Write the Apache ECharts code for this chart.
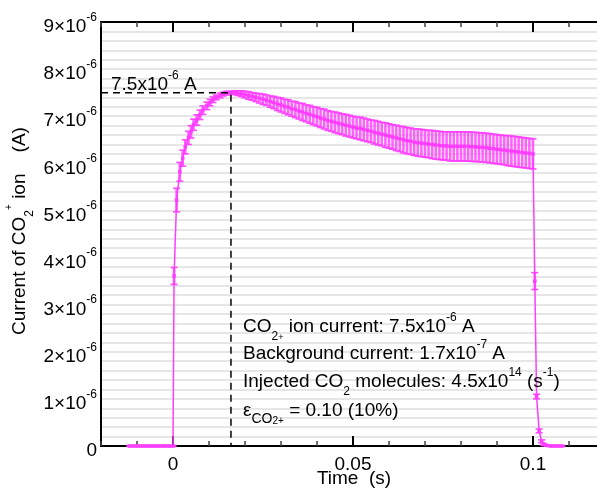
<!DOCTYPE html>
<html><head><meta charset="utf-8">
<script src="https://cdn.jsdelivr.net/npm/echarts@6/dist/echarts.min.js"></script>
<style>html,body{margin:0;padding:0;background:#fff}#c{width:597px;height:488px}</style>
</head><body><div id="c"></div>
<script>
// Time (s)
const time = [
  -0.012,-0.011,-0.010,-0.009,-0.008,-0.007,-0.006,-0.005,-0.004,-0.003,-0.002,-0.001,0.000,
  0.0003,0.0010,0.0019,0.0027,0.0034,0.0043,0.0050,0.0057,0.0066,0.0075,0.0083,0.0094,0.0103,0.0111,0.0120,0.0131,0.0139,0.0149,0.0158,
  0.017,0.018,0.019,0.020,0.021,0.022,0.023,0.024,0.025,0.026,0.027,0.028,0.029,0.030,
  0.031,0.032,0.033,0.034,0.035,0.036,0.037,0.038,0.039,0.040,
  0.041,0.042,0.043,0.044,0.045,0.046,0.047,0.048,0.049,0.050,
  0.051,0.052,0.053,0.054,0.055,0.056,0.057,0.058,0.059,0.060,
  0.061,0.062,0.063,0.064,0.065,0.066,0.067,0.068,0.069,0.070,
  0.071,0.072,0.073,0.074,0.075,0.076,0.077,0.078,0.079,0.080,
  0.081,0.082,0.083,0.084,0.085,0.086,0.087,0.088,0.089,0.090,
  0.091,0.092,0.093,0.094,0.095,0.096,0.097,0.098,0.099,0.100,
  0.1005,0.1010,0.1017,0.1024,0.103,0.104,0.105,0.106,0.107,0.108
];
// Current of CO2+ ion (x10^-6 A)
const current = [
  0,0,0,0,0,0,0,0,0,0,0,0,0,
  3.61,5.22,5.82,6.11,6.35,6.54,6.67,6.82,6.92,7.03,7.13,7.22,7.29,7.35,7.40,7.44,7.47,7.49,7.50,
  7.50,7.49,7.48,7.46,7.44,7.42,7.40,7.38,7.36,7.34,7.31,7.29,7.26,7.24,
  7.21,7.19,7.16,7.14,7.11,7.09,7.06,7.04,7.01,6.99,
  6.96,6.94,6.91,6.89,6.87,6.85,6.83,6.81,6.79,6.77,
  6.75,6.74,6.72,6.70,6.68,6.66,6.64,6.62,6.60,6.58,
  6.56,6.54,6.52,6.50,6.48,6.47,6.45,6.44,6.43,6.42,
  6.41,6.40,6.39,6.38,6.37,6.37,6.36,6.36,6.36,6.36,
  6.36,6.36,6.35,6.35,6.34,6.34,6.33,6.32,6.31,6.30,
  6.29,6.28,6.27,6.26,6.25,6.24,6.23,6.22,6.21,6.20,
  3.50,1.05,0.32,0.10,0.03,0.01,0,0,0,0
];
// Error bar half-height (x10^-6 A)
const errorBar = [
  0.01,0.01,0.01,0.01,0.01,0.01,0.01,0.01,0.01,0.01,0.01,0.01,0.01,
  0.18,0.25,0.20,0.17,0.15,0.14,0.13,0.12,0.11,0.10,0.09,0.08,0.07,0.06,0.05,0.05,0.04,0.04,0.03,
  0.04,0.05,0.06,0.07,0.08,0.08,0.09,0.10,0.11,0.11,0.12,0.13,0.14,0.15,
  0.15,0.16,0.16,0.17,0.17,0.18,0.18,0.19,0.19,0.20,
  0.20,0.21,0.21,0.21,0.22,0.22,0.22,0.23,0.23,0.23,
  0.23,0.24,0.24,0.24,0.24,0.25,0.25,0.25,0.26,0.26,
  0.26,0.27,0.27,0.28,0.28,0.28,0.28,0.29,0.29,0.29,
  0.29,0.30,0.30,0.30,0.30,0.30,0.31,0.31,0.31,0.31,
  0.31,0.31,0.31,0.31,0.31,0.31,0.31,0.31,0.31,0.31,
  0.31,0.31,0.32,0.32,0.32,0.32,0.32,0.32,0.32,0.32,
  0.18,0.05,0.04,0.03,0.02,0.01,0.01,0.01,0.01,0.01
];
const yTickValues = [0,1,2,3,4,5,6,7,8,9];
const xTickLabels = [0, 0.05, 0.1];
const peakTime = 0.0161;
const peakCurrent = 7.5;

const FONT = '"Liberation Sans", Arial, Helvetica, sans-serif';
const MAG = '#ff3cff';
const chart = echarts.init(document.getElementById('c'), null, {renderer:'canvas'});

const gridBox = {left:101, top:22, width:504, height:424, outerBoundsMode:'none', containLabel:false};
const richNum = {
  b:{fontSize:19, fontFamily:FONT, color:'#000', lineHeight:31},
  s:{fontSize:12, fontFamily:FONT, color:'#000', lineHeight:13, verticalAlign:'top'}
};
const xBase = {min:-0.02, max:0.12, type:'value', splitLine:{show:false}};

const option = {
  animation:false,
  backgroundColor:'#fff',
  grid:[Object.assign({}, gridBox), Object.assign({}, gridBox)],
  xAxis:[
    Object.assign({}, xBase, {gridIndex:0, position:'bottom', interval:0.01,
      axisLine:{onZero:false, lineStyle:{color:'#000', width:2}},
      axisTick:{inside:true, length:5, lineStyle:{color:'#444', width:1.5}},
      axisLabel:{show:false}}),
    Object.assign({}, xBase, {gridIndex:0, position:'top', interval:0.01,
      axisLine:{onZero:false, lineStyle:{color:'#000', width:2}},
      axisTick:{inside:true, length:5, lineStyle:{color:'#444', width:1.5}},
      axisLabel:{show:false}}),
    Object.assign({}, xBase, {gridIndex:1, position:'bottom',
      axisLine:{show:false, onZero:false},
      axisTick:{inside:true, length:10, customValues:xTickLabels, lineStyle:{color:'#000', width:2}},
      axisLabel:{customValues:xTickLabels, margin:9, fontSize:19, fontFamily:FONT, color:'#000',
        formatter:v=>String(v)}}),
    Object.assign({}, xBase, {gridIndex:1, position:'top',
      axisLine:{show:false, onZero:false},
      axisTick:{inside:true, length:10, customValues:xTickLabels, lineStyle:{color:'#000', width:2}},
      axisLabel:{show:false}})
  ],
  yAxis:[
    {gridIndex:0, type:'value', min:0, max:9, interval:1,
      axisLine:{show:true, onZero:false, lineStyle:{color:'#000', width:2}},
      axisTick:{show:false},
      minorTick:{show:false, splitNumber:5},
      splitLine:{show:true, lineStyle:{color:'#dedede', width:1.5}},
      minorSplitLine:{show:true, lineStyle:{color:'#dedede', width:1.5}},
      axisLabel:{margin:4, padding:[10,0,0,0], rich:richNum,
        formatter:v=> v===0 ? '{b|0}' : '{b|'+v+'×10}{s|-6}'}},
    {gridIndex:1, type:'value', min:0, max:9, show:false}
  ],
  series:[
    {type:'custom', xAxisIndex:0, yAxisIndex:0, z:3,
      data: time.map((t,i)=>[t, current[i]-errorBar[i], current[i]+errorBar[i]]),
      renderItem:(params, api)=>{
        const lo = api.coord([api.value(0), api.value(1)]);
        const hi = api.coord([api.value(0), api.value(2)]);
        const w = 3.5;
        const st = {stroke:MAG, lineWidth:2.6, opacity:0.8};
        const cap = {stroke:MAG, lineWidth:1.6, opacity:0.9};
        return {type:'group', children:[
          {type:'line', shape:{x1:lo[0],y1:lo[1],x2:hi[0],y2:hi[1]}, style:st},
          {type:'line', shape:{x1:lo[0]-w,y1:lo[1],x2:lo[0]+w,y2:lo[1]}, style:cap},
          {type:'line', shape:{x1:hi[0]-w,y1:hi[1],x2:hi[0]+w,y2:hi[1]}, style:cap}
        ]};
      }},
    {type:'line', xAxisIndex:0, yAxisIndex:0, z:4,
      data: time.map((t,i)=>[t, current[i]]),
      symbol:'rect', symbolSize:3.5, showSymbol:true,
      itemStyle:{color:MAG}, lineStyle:{color:MAG, width:1.5}},
    {type:'line', xAxisIndex:0, yAxisIndex:0, z:5, symbol:'none',
      data:[[xBase.min, peakCurrent],[peakTime, peakCurrent],[peakTime, 0]],
      lineStyle:{color:'#000', width:1.5, type:[7,5]}}
  ],
  graphic:[
    {type:'text', x:20, y:231, rotation:Math.PI/2, z:10,
      style:{text:'{b|Current of CO}{sb|2}{sp|+}{b| ion    (A)}', align:'center', verticalAlign:'middle',
        textAlign:'center', textVerticalAlign:'middle',
        rich:{b:{fontSize:19, fontFamily:FONT, fill:'#000', lineHeight:31},
              sb:{fontSize:12, fontFamily:FONT, fill:'#000', lineHeight:14, verticalAlign:'bottom'},
              sp:{fontSize:10, fontFamily:FONT, fill:'#000', lineHeight:16, verticalAlign:'top'}}}},
    {type:'text', x:354, y:479, z:10,
      style:{text:'Time  (s)', font:'19px '+FONT, fill:'#000', align:'center', verticalAlign:'middle',
        textAlign:'center', textVerticalAlign:'middle'}}
  ]
};
const annRich = {
  b:{fontSize:19, fontFamily:FONT, fill:'#000', lineHeight:31},
  sp:{fontSize:12, fontFamily:FONT, fill:'#000', lineHeight:14, verticalAlign:'top'},
  sb:{fontSize:12, fontFamily:FONT, fill:'#000', lineHeight:14, verticalAlign:'bottom'},
  spx:{fontSize:9, fontFamily:FONT, fill:'#000', lineHeight:20, verticalAlign:'bottom'},
  sbl:{fontSize:14, fontFamily:FONT, fill:'#000', lineHeight:10, verticalAlign:'bottom'},
  sbs:{fontSize:10, fontFamily:FONT, fill:'#000', lineHeight:1, verticalAlign:'bottom'}
};
const annLines = [
  ['{b|7.5x10}{sp|-6}{b| A}', 111, 85],
  ['{b|CO}{sb|2}{spx|+}{b| ion current: 7.5x10}{sp|-6}{b| A}', 243, 327],
  ['{b|Background current: 1.7x10}{sp|-7}{b| A}', 243, 354],
  ['{b|Injected CO}{sb|2}{b| molecules: 4.5x10}{sp|14}{b| (s}{sp|-1}{b|)}', 243, 382],
  ['{b|ε}{sbl|CO}{sbs|2+}{b| = 0.10 (10%)}', 243, 411]
];
annLines.forEach(([t,x,y])=>{
  option.graphic.push({type:'text', x:x, y:y, z:10,
    style:{text:t, rich:annRich, align:'left', verticalAlign:'middle', textAlign:'left', textVerticalAlign:'middle'}});
});
chart.setOption(option);
</script></body></html>
